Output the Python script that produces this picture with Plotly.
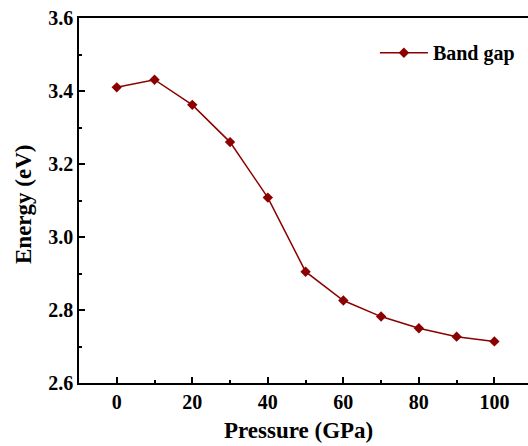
import plotly.graph_objects as go

pressure = [0, 10, 20, 30, 40, 50, 60, 70, 80, 90, 100]
band_gap = [3.410, 3.431, 3.362, 3.260, 3.108, 2.905, 2.826, 2.782, 2.750, 2.727, 2.714]
x_ticks = [0, 20, 40, 60, 80, 100]
y_ticks = [2.6, 2.8, 3.0, 3.2, 3.4, 3.6]

color = "#8B0000"
FONT = "Liberation Serif"

fig = go.Figure()
fig.add_trace(go.Scatter(
    x=pressure, y=band_gap, mode="lines+markers", name="Band gap",
    line=dict(color=color, width=1.5),
    marker=dict(symbol="diamond", size=8, color=color),
))

axis_common = dict(
    showline=True, linecolor="black", linewidth=1.5,
    ticks="inside", ticklen=6, tickwidth=1.5, tickcolor="black",
    showgrid=False, zeroline=False,
    tickfont=dict(family=FONT, size=20, color="black", weight="bold"),
    minor=dict(ticks="inside", ticklen=3, tickwidth=1.5, tickcolor="black", showgrid=False),
)

fig.update_layout(
    width=528, height=446,
    margin=dict(l=79, r=0, t=18, b=63),
    paper_bgcolor="white", plot_bgcolor="white",
    showlegend=True,
    legend=dict(x=0.659, y=0.905, xanchor="left", yanchor="middle", itemwidth=48,
                bgcolor="rgba(0,0,0,0)", borderwidth=0,
                font=dict(family=FONT, size=20, color="black", weight="bold")),
    xaxis=dict(range=[-10, 108.9], tickvals=x_ticks, mirror=True,
               minor_dtick=10, **axis_common),
    yaxis=dict(range=[2.6, 3.6], tickvals=y_ticks, mirror=False,
               tickformat=".1f", minor_dtick=0.1, **axis_common),
    annotations=[
        dict(text="Pressure (GPa)", xref="paper", yref="paper",
             x=(298 - 79) / 449, y=-(431 - 383) / 365, xanchor="center", yanchor="middle",
             showarrow=False, font=dict(family=FONT, size=23, color="black", weight="bold")),
        dict(text="Energy (eV)", xref="paper", yref="paper",
             x=-(79 - 23) / 449, y=(383 - 205) / 365, xanchor="center", yanchor="middle",
             textangle=-90, showarrow=False,
             font=dict(family=FONT, size=23, color="black", weight="bold")),
    ],
)

fig.write_html("out.html")
